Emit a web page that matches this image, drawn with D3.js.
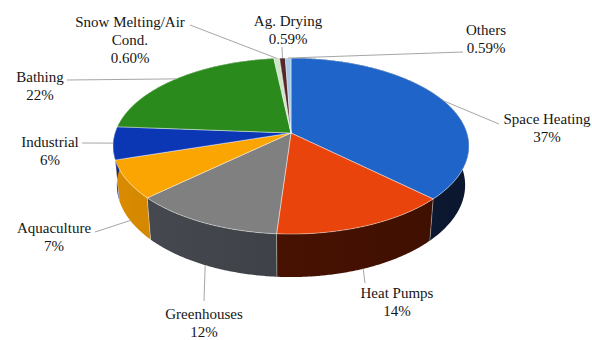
<!DOCTYPE html>
<html>
<head>
<meta charset="utf-8">
<script src="https://cdn.jsdelivr.net/npm/d3@7"></script>
<style>
  html, body { margin: 0; padding: 0; background: #ffffff; }
  svg { display: block; }
</style>
</head>
<body>
<svg id="chart" width="592" height="340"></svg>
<script>
// Geothermal direct-use shares by application
const categories = ["Space Heating", "Heat Pumps", "Greenhouses", "Aquaculture", "Industrial",
                    "Bathing", "Snow Melting/Air Cond.", "Ag. Drying", "Others"];
const shares = [37, 14, 12, 7, 6, 22, 0.60, 0.59, 0.59];
const shareLabels = ["37%", "14%", "12%", "7%", "6%", "22%", "0.60%", "0.59%", "0.59%"];
const labelLines = [["Space Heating"], ["Heat Pumps"], ["Greenhouses"], ["Aquaculture"], ["Industrial"],
                    ["Bathing"], ["Snow Melting/Air", "Cond."], ["Ag. Drying"], ["Others"]];

// Fill colours: top faces and (lighter end of) side walls
const topColors  = ["#1f64c9", "#e8440c", "#808080", "#fba502", "#0b37b5", "#2a8a1c", "#cfe6c8", "#55262a", "#a8cbe8"];
const sideColors = ["#0f1f3e", "#521402", "#474b51", "#da8b00", "#0a2a8a", "#1e6414", "#9fb89a", "#3a1a1c", "#7f9ab2"];

// Label placement: text centre x, first-line centre y, leader start x/y, anchor on top rim or side bottom
const labelLayout = [
  { x: 547, y: 119, lx: 499, ly: 124, at: "top" },
  { x: 397, y: 293, lx: 365, ly: 283, at: "bottom" },
  { x: 204, y: 314, lx: 204, ly: 301, at: "bottom" },
  { x: 54,  y: 228, lx: 95,  ly: 232, at: "bottom" },
  { x: 50,  y: 142, lx: 82,  ly: 143, at: "top" },
  { x: 40,  y: 77,  lx: 67,  ly: 80,  at: "top" },
  { x: 130, y: 22,  lx: 190, ly: 25,  at: "top" },
  { x: 288, y: 21,  lx: 282, ly: 47,  at: "top" },
  { x: 486, y: 30,  lx: 463, ly: 52,  at: "top" }
];

const svg = d3.select("#chart");
const defs = svg.append("defs");

// Perspective view of a unit-radius disc, angles clockwise from the far side
const view = { cx: 291, cy: 133, scale: 176, tilt: Math.asin(0.489), dist: 5.89, thickness: 0.259 };
const sinT = Math.sin(view.tilt), cosT = Math.cos(view.tilt);
function projectXYZ(X, Y, Z) {
  const d = view.dist - (Y * sinT + Z * cosT);
  const up = Y * cosT - Z * sinT;
  const f = view.scale * view.dist;
  return [view.cx + f * X / d, view.cy - f * up / d];
}
const rim = (theta, y) => projectXYZ(Math.sin(theta), y, -Math.cos(theta));
const centreTop = projectXYZ(0, 0, 0);
const bottomY = -view.thickness;

const arcs = d3.pie().sort(null).value(d => d).startAngle(0).endAngle(2 * Math.PI)(shares);
const lineGen = d3.line();

function rimPoints(a0, a1, y, stepDeg) {
  const n = Math.max(2, Math.ceil((a1 - a0) / (Math.PI / 180 * stepDeg)));
  return d3.range(n + 1).map(k => rim(a0 + (a1 - a0) * k / n, y));
}

// Side walls: one band per slice, shaded darker towards the right
const xLeft = view.cx - view.scale * 1.02, xRight = view.cx + view.scale * 1.02;
const sideG = svg.append("g");
arcs.forEach((a, i) => {
  const gid = "side-" + i;
  const g = defs.append("linearGradient")
    .attr("id", gid)
    .attr("gradientUnits", "userSpaceOnUse")
    .attr("x1", xLeft).attr("y1", 0).attr("x2", xRight).attr("y2", 0);
  g.append("stop").attr("offset", 0).attr("stop-color", sideColors[i]);
  g.append("stop").attr("offset", 1).attr("stop-color", d3.color(sideColors[i]).darker(0.85).formatHex());
  const top = rimPoints(a.startAngle, a.endAngle, 0, 0.5);
  const bot = rimPoints(a.startAngle, a.endAngle, bottomY, 0.5).reverse();
  sideG.append("path")
    .attr("d", lineGen(top.concat(bot)) + "Z")
    .attr("fill", `url(#${gid})`);
});

// Light seams between slices on the front wall
arcs.forEach(a => {
  const t = a.startAngle;
  if (-Math.cos(t) > 0.05) {
    sideG.append("path")
      .attr("d", lineGen([rim(t, 0), rim(t, bottomY)]))
      .attr("stroke", "rgba(255,255,255,0.35)")
      .attr("stroke-width", 1);
  }
});

// Top faces
const topG = svg.append("g");
arcs.forEach((a, i) => {
  const pts = [centreTop].concat(rimPoints(a.startAngle, a.endAngle, 0, 0.5));
  topG.append("path")
    .attr("d", lineGen(pts) + "Z")
    .attr("fill", topColors[i])
    .attr("stroke", "rgba(255,255,255,0.55)")
    .attr("stroke-width", 0.8)
    .attr("stroke-linejoin", "round");
});

// Leader lines and labels
const labelG = svg.append("g");
arcs.forEach((a, i) => {
  const L = labelLayout[i];
  const mid = (a.startAngle + a.endAngle) / 2;
  const anchor = rim(mid, L.at === "top" ? 0 : bottomY);
  labelG.append("path")
    .attr("d", lineGen([[L.lx, L.ly], anchor]))
    .attr("fill", "none")
    .attr("stroke", "#a6a6a6")
    .attr("stroke-width", 1);
  const lines = labelLines[i].concat([shareLabels[i]]);
  const txt = labelG.append("text")
    .attr("text-anchor", "middle")
    .attr("font-family", "'Liberation Serif', 'Times New Roman', serif")
    .attr("font-size", 15)
    .attr("fill", "#161616");
  lines.forEach((s, j) => {
    txt.append("tspan")
      .attr("x", L.x)
      .attr("y", L.y + j * 18)
      .attr("dy", "0.35em")
      .text(s);
  });
});
</script>
</body>
</html>
